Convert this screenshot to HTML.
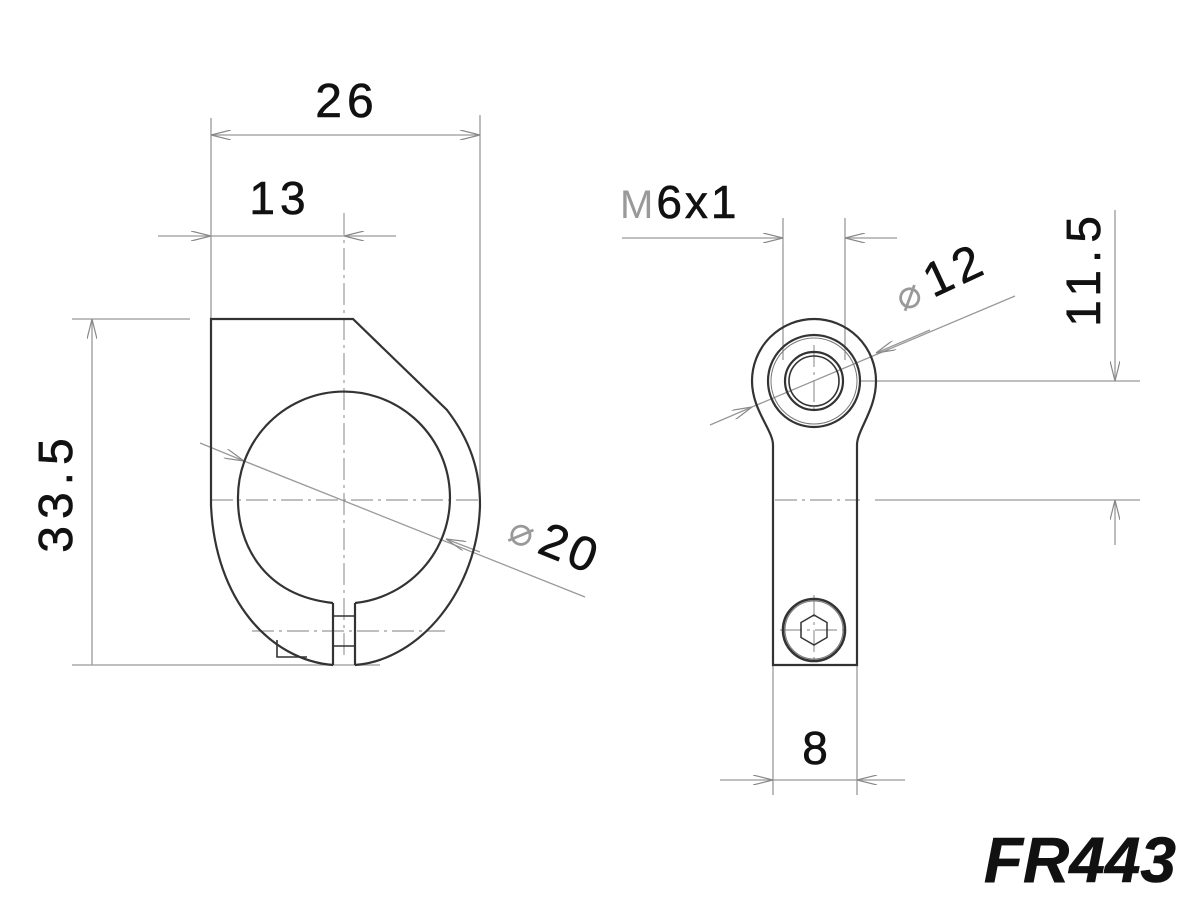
<!DOCTYPE html>
<html><head><meta charset="utf-8"><style>
html,body{margin:0;padding:0;background:#fff;}
svg{display:block;}
text{font-family:"Liberation Sans",sans-serif;fill:#111;stroke:#111;stroke-width:0.6;}
</style></head><body>
<svg width="1200" height="909" viewBox="0 0 1200 909" xmlns="http://www.w3.org/2000/svg">
<defs>
<marker id="a" viewBox="0 0 20 10" refX="20" refY="5" markerWidth="20" markerHeight="10" markerUnits="userSpaceOnUse" orient="auto-start-reverse">
<path d="M0,0 L20,5 L0,10" fill="none" stroke="#888" stroke-width="1.2"/></marker>
</defs>
<g stroke="#999" stroke-width="1.3" fill="none">
<line x1="211" y1="118" x2="211" y2="319"/>
<line x1="480" y1="115" x2="480" y2="500"/>
<line x1="211" y1="135" x2="480" y2="135" marker-start="url(#a)" marker-end="url(#a)"/>
<line x1="158" y1="236" x2="211" y2="236" marker-end="url(#a)"/>
<line x1="396" y1="236" x2="344" y2="236" marker-end="url(#a)"/>
<line x1="211" y1="236" x2="344" y2="236"/>
<line x1="72" y1="319" x2="190" y2="319"/>
<line x1="72" y1="665" x2="380" y2="665"/>
<line x1="92" y1="665" x2="92" y2="319" marker-end="url(#a)"/>
<line x1="200" y1="443" x2="244" y2="461" marker-end="url(#a)"/>
<line x1="244" y1="461" x2="585" y2="597"/>
<line x1="480" y1="552" x2="446" y2="539" marker-end="url(#a)"/>
<line x1="783" y1="218" x2="783" y2="360"/>
<line x1="845" y1="218" x2="845" y2="360"/>
<line x1="622" y1="238" x2="783" y2="238" marker-end="url(#a)"/>
<line x1="897" y1="238" x2="845" y2="238" marker-end="url(#a)"/>
<line x1="710" y1="425" x2="752" y2="407" marker-end="url(#a)"/>
<line x1="752" y1="407" x2="1015" y2="296"/>
<line x1="930" y1="330" x2="876" y2="353" marker-end="url(#a)"/>
<line x1="860" y1="381" x2="1140" y2="381"/>
<line x1="875" y1="500" x2="1140" y2="500"/>
<line x1="1115" y1="210" x2="1115" y2="381" marker-end="url(#a)"/>
<line x1="1115" y1="545" x2="1115" y2="500" marker-end="url(#a)"/>
<line x1="773" y1="665" x2="773" y2="795"/>
<line x1="857" y1="665" x2="857" y2="795"/>
<line x1="720" y1="780" x2="773" y2="780" marker-end="url(#a)"/>
<line x1="905" y1="780" x2="857" y2="780" marker-end="url(#a)"/>
<line x1="773" y1="780" x2="857" y2="780"/>
</g>
<g stroke="#999" stroke-width="1.2" fill="none" stroke-dasharray="22,5,3,5">
<line x1="344" y1="213" x2="344" y2="660"/>
<line x1="211" y1="500" x2="480" y2="500"/>
<line x1="252" y1="631" x2="445" y2="631"/>
<line x1="775" y1="500" x2="860" y2="500"/>
<line x1="814" y1="345" x2="814" y2="415"/>
<line x1="814" y1="595" x2="814" y2="665"/>
<line x1="780" y1="630" x2="850" y2="630"/>
</g>
<g stroke="#333" stroke-width="2.2" fill="none">
<path d="M333,665 C270,660 215,600 211,505 L211,319 L353,319 L447,410 C470,440 480,470 480,505 C478,590 420,660 355,665"/>
<path d="M333,603 C260,595 238,540 238,500 A106,106 0 1 1 355,603"/>
<path d="M333,603 L333,665 M355,603 L355,665"/>
<path d="M333,616 L355,616 M333,646 L355,646" stroke-width="1.5"/>
<path d="M277,640 L277,657 L307,657" stroke-width="1.6"/>
</g>
<g stroke="#333" stroke-width="2.2" fill="none">
<path d="M773,665 L773,445 C773,430 752,410 752,381 A62,62 0 1 1 876,381 C876,410 857,430 857,445 L857,665 Z"/>
<circle cx="814" cy="381" r="46"/>
<circle cx="814" cy="381" r="43" stroke-width="1" stroke="#777"/>
<circle cx="814" cy="381" r="29"/>
<circle cx="814" cy="381" r="25" stroke-width="1.6"/>
<circle cx="814" cy="630" r="31" stroke-width="2.6"/>
<circle cx="814" cy="630" r="29" stroke-width="1" stroke="#777"/>
<polygon points="814,615 827,622.5 827,637.5 814,645 801,637.5 801,622.5" stroke-width="1.5"/>
</g>
<text x="347" y="117" font-size="48" text-anchor="middle" letter-spacing="5">26</text>
<text x="280" y="214" font-size="46" text-anchor="middle" letter-spacing="5">13</text>
<text transform="translate(72,492) rotate(-90)" font-size="48" text-anchor="middle" letter-spacing="7">33.5</text>
<text transform="translate(506,540) rotate(22)" font-size="48" letter-spacing="4"><tspan font-size="40" fill="#999" stroke="none" font-weight="normal">⌀</tspan><tspan dx="4">20</tspan></text>
<text x="620" y="218" font-size="46" letter-spacing="3"><tspan fill="#999" stroke="none" font-size="40">M</tspan>6x1</text>
<text transform="translate(903,312) rotate(-25)" font-size="48" letter-spacing="5"><tspan font-size="40" fill="#999" stroke="none">⌀</tspan><tspan dx="4">12</tspan></text>
<text transform="translate(1100,268) rotate(-90)" font-size="48" text-anchor="middle" letter-spacing="7">11.5</text>
<text x="815" y="764" font-size="46" text-anchor="middle">8</text>
<text x="1176" y="882" font-size="64" font-weight="bold" font-style="italic" text-anchor="end" fill="#000" stroke="none">FR443</text>
</svg>
</body></html>
